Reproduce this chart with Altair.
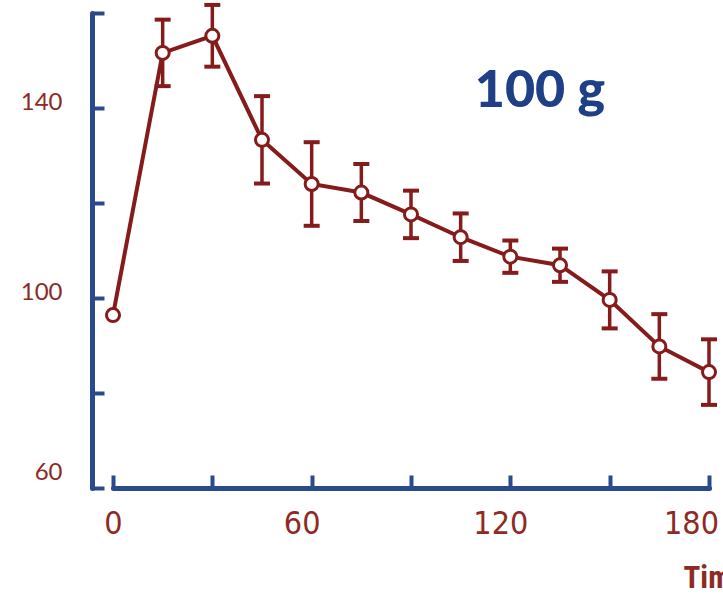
import altair as alt
import pandas as pd

# Mean response after a 100 g load, with error bars (mean ± SEM)
times = [0, 15, 30, 45, 60, 75, 90, 105, 120, 135, 150, 165, 180]
means = [96.4, 151.6, 155.2, 133.3, 124.0, 122.2, 117.6, 112.8, 108.7, 106.9, 99.6, 89.8, 84.4]
sems = [0.0, 7.0, 6.5, 9.2, 8.8, 6.0, 5.0, 5.0, 3.4, 3.5, 6.0, 6.8, 6.9]

x_ticks = [0, 30, 60, 90, 120, 150, 180]
x_labels = [0, 60, 120, 180]
y_ticks = [60, 80, 100, 120, 140, 160]
y_labels = [60, 100, 140]
panel_label = "100 g"
x_title = "Time (min)"

RED = "#861b1b"
LABEL_RED = "#8e2a24"
BLUE = "#2b4a8e"
W, H = 596, 475
Y_AXIS_GAP = 21
NARROW = "'DejaVu Sans Condensed', serif"
NARROW2 = "'Roboto Condensed', serif"

df = pd.DataFrame({"t": times, "mean": means, "sem": sems})
df["lo"] = df["mean"] - df["sem"]
df["hi"] = df["mean"] + df["sem"]
bars = df[df["sem"] > 0]
caps = pd.concat([
    bars[["t", "lo"]].rename(columns={"lo": "v"}),
    bars[["t", "hi"]].rename(columns={"hi": "v"}),
])

xs = alt.Scale(domain=[0, 180], nice=False, zero=False)
ys = alt.Scale(domain=[60, 160], nice=False, zero=False)

# axes carrying only the labels
x_label_axis = alt.Axis(
    orient="bottom", values=x_labels, format="d", domain=False, ticks=False,
    tickSize=0, grid=False, labelPadding=20, labelFlush=False,
    labelFont=NARROW, labelFontSize=32, labelColor=LABEL_RED,
    labelOffset={
        "condition": [
            {"test": "datum.value == 0", "value": 0},
            {"test": "datum.value == 180", "value": -18},
        ],
        "value": -10,
    },
    title=x_title, titleFont=NARROW2, titleFontSize=31,
    titleFontWeight="bold", titleColor=LABEL_RED, titleX=570, titleY=99,
    titleAlign="left", titleBaseline="alphabetic",
)
y_label_axis = alt.Axis(
    orient="left", values=y_labels, format="d", domain=False, ticks=False,
    tickSize=0, grid=False, offset=Y_AXIS_GAP, labelPadding=30,
    labelFont="Lato", labelFontSize=24, labelColor=LABEL_RED,
    labelOffset={"condition": {"test": "datum.value == 60", "value": -16}, "value": -6},
    title=None,
)

# axes carrying the blue lines and inward-pointing ticks
x_tick_axis = alt.Axis(
    orient="top", offset=-H, values=x_ticks, labels=False, grid=False,
    domain=True, domainColor=BLUE, domainWidth=5, domainCap="round",
    tickColor=BLUE, tickWidth=4, tickSize=13, title=None,
)
y_tick_axis = alt.Axis(
    orient="right", offset=-(W + Y_AXIS_GAP), values=y_ticks, labels=False,
    grid=False, domain=True, domainColor=BLUE, domainWidth=5, domainCap="round",
    tickColor=BLUE, tickWidth=4, tickSize=12, title=None,
)

base = alt.Chart(df)

line = base.mark_line(color=RED, strokeWidth=4).encode(
    x=alt.X("t:Q", scale=xs, axis=x_label_axis),
    y=alt.Y("mean:Q", scale=ys, axis=y_label_axis),
)

whiskers = alt.Chart(bars).mark_rule(color=RED, strokeWidth=3.5).encode(
    x=alt.X("t:Q", scale=xs, axis=None),
    y=alt.Y("lo:Q", scale=ys, axis=None),
    y2="hi:Q",
)

cap_marks = alt.Chart(caps).mark_tick(
    color=RED, orient="horizontal", size=16, thickness=4, opacity=1
).encode(
    x=alt.X("t:Q", scale=xs, axis=None),
    y=alt.Y("v:Q", scale=ys, axis=None),
)

points = base.mark_point(
    shape="circle", size=170, fill="white", fillOpacity=1, stroke=RED,
    strokeWidth=3, opacity=1,
).encode(
    x=alt.X("t:Q", scale=xs, axis=x_tick_axis),
    y=alt.Y("mean:Q", scale=ys, axis=y_tick_axis),
)

label = alt.Chart(pd.DataFrame({"s": [panel_label]})).mark_text(
    font="Lato", fontSize=52, fontWeight=900, color="#1f3f86",
    align="center", baseline="alphabetic",
).encode(text="s:N", x=alt.value(427), y=alt.value(94))

chart = (
    alt.layer(whiskers, cap_marks, line, points, label)
    .resolve_axis(x="independent", y="independent")
    .properties(
        width=W, height=H,
        autosize=alt.AutoSizeParams(type="none"),
        padding={"left": 113, "top": 13, "right": 14, "bottom": 108},
        background="white",
    )
    .configure_view(stroke=None)
)

chart.save("out.html", embed_options={"renderer": "svg", "actions": False})
